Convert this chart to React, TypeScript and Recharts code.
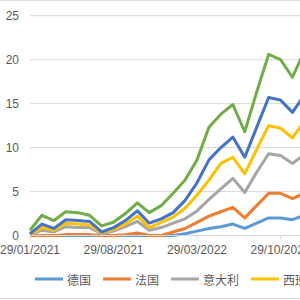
import { LineChart, Line, XAxis, YAxis, CartesianGrid, Legend } from "recharts";

const dates = [
  "29/01/2021", "28/02/2021", "29/03/2021", "29/04/2021", "29/05/2021", "29/06/2021",
  "29/07/2021", "29/08/2021", "29/09/2021", "29/10/2021", "29/11/2021", "29/12/2021",
  "29/01/2022", "28/02/2022", "29/03/2022", "29/04/2022", "29/05/2022", "29/06/2022",
  "29/07/2022", "29/08/2022", "29/09/2022", "29/10/2022", "29/11/2022", "29/12/2022",
];

const germany = [0, 0, 0, 0, 0, 0, 0, 0, 0, 0, 0, 0, 0, 0.2, 0.5, 0.8, 1.0, 1.3, 0.8, 1.4, 2.0, 2.0, 1.8, 2.3];
const france = [0, 0, 0, 0.1, 0.1, 0.1, 0, 0, 0.1, 0.3, 0, 0, 0.4, 0.8, 1.5, 2.2, 2.7, 3.2, 2.0, 3.4, 4.8, 4.8, 4.2, 4.8];
const italy = [0.1, 0.6, 0.4, 1.0, 0.9, 0.9, 0.2, 0.5, 1.0, 1.6, 0.6, 0.9, 1.4, 1.9, 2.8, 4.1, 5.3, 6.5, 4.9, 7.2, 9.3, 9.1, 8.2, 9.2];
const spain = [0.1, 0.9, 0.6, 1.4, 1.3, 1.2, 0.3, 0.7, 1.3, 2.2, 0.9, 1.5, 2.1, 3.1, 4.6, 6.3, 8.2, 8.9, 7.0, 9.8, 12.5, 12.2, 11.1, 13.0];
const uk = [0.2, 1.3, 0.8, 1.8, 1.7, 1.6, 0.4, 0.9, 1.7, 2.8, 1.4, 1.9, 2.6, 4.0, 6.0, 8.6, 10.0, 11.2, 8.9, 12.3, 15.7, 15.4, 14.0, 16.0];
const eu = [0.6, 2.3, 1.7, 2.7, 2.6, 2.3, 1.1, 1.5, 2.5, 3.7, 2.6, 3.4, 4.8, 6.3, 8.6, 12.3, 13.8, 14.9, 11.8, 16.3, 20.6, 20.0, 18.0, 21.0];

const yTicks = [0, 5, 10, 15, 20, 25];

const series = [
  { key: "de", name: "德国", color: "#5B9BD5", values: germany },
  { key: "fr", name: "法国", color: "#ED7D31", values: france },
  { key: "it", name: "意大利", color: "#A5A5A5", values: italy },
  { key: "es", name: "西班牙", color: "#FFC000", values: spain },
  { key: "uk", name: "英国", color: "#4472C4", values: uk },
  { key: "eu", name: "欧盟", color: "#70AD47", values: eu },
];

const data = dates.map((d, i) => {
  const row: Record<string, string | number> = { date: d };
  series.forEach((s) => {
    row[s.key] = s.values[i];
  });
  return row;
});

const FONT = '"Liberation Sans", "Noto Sans CJK SC", sans-serif';

function LegendContent() {
  return (
    <div style={{ display: "flex", alignItems: "center", height: 16, fontFamily: FONT, fontSize: 12, color: "#595959", whiteSpace: "nowrap" }}>
      {series.map((s) => (
        <div key={s.key} style={{ display: "flex", alignItems: "center", marginRight: 12 }}>
          <svg width={28} height={4} style={{ display: "block" }}>
            <line x1={0} y1={2} x2={28} y2={2} stroke={s.color} strokeWidth={3} />
          </svg>
          <span style={{ marginLeft: 4 }}>{s.name}</span>
        </div>
      ))}
    </div>
  );
}

export default function App() {
  return (
    <div style={{ position: "fixed", left: 0, top: 0, width: 300, height: 300, overflow: "hidden", background: "#fff" }}>
      <div style={{ position: "absolute", left: -10, top: 0, width: 440, height: 297, border: "1px solid #d9d9d9" }} />
      <div style={{ position: "absolute", left: 0, top: 0 }}>
        <LineChart
          width={400}
          height={300}
          data={data}
          margin={{ top: 15.7, right: 95.6, bottom: 18.5, left: 0 }}
          style={{ fontFamily: FONT }}
        >
          <CartesianGrid vertical={false} stroke="#d9d9d9" strokeWidth={1} />
          <XAxis
            dataKey="date"
            interval={6}
            height={30}
            stroke="#d9d9d9"
            tickSize={4}
            tickMargin={6}
            tick={{ fill: "#595959", fontSize: 12 }}
          />
          <YAxis
            domain={[0, 25]}
            ticks={yTicks}
            width={30}
            axisLine={false}
            tickLine={false}
            tickSize={0}
            tickMargin={11}
            tick={{ fill: "#595959", fontSize: 12 }}
          />
          <Legend
            content={<LegendContent />}
            verticalAlign="bottom"
            wrapperStyle={{ left: 35, top: 271, width: "auto" }}
          />
          {series.map((s) => (
            <Line
              key={s.key}
              dataKey={s.key}
              name={s.name}
              stroke={s.color}
              strokeWidth={3}
              dot={false}
              type="linear"
              strokeLinejoin="round"
              isAnimationActive={false}
            />
          ))}
        </LineChart>
      </div>
    </div>
  );
}
